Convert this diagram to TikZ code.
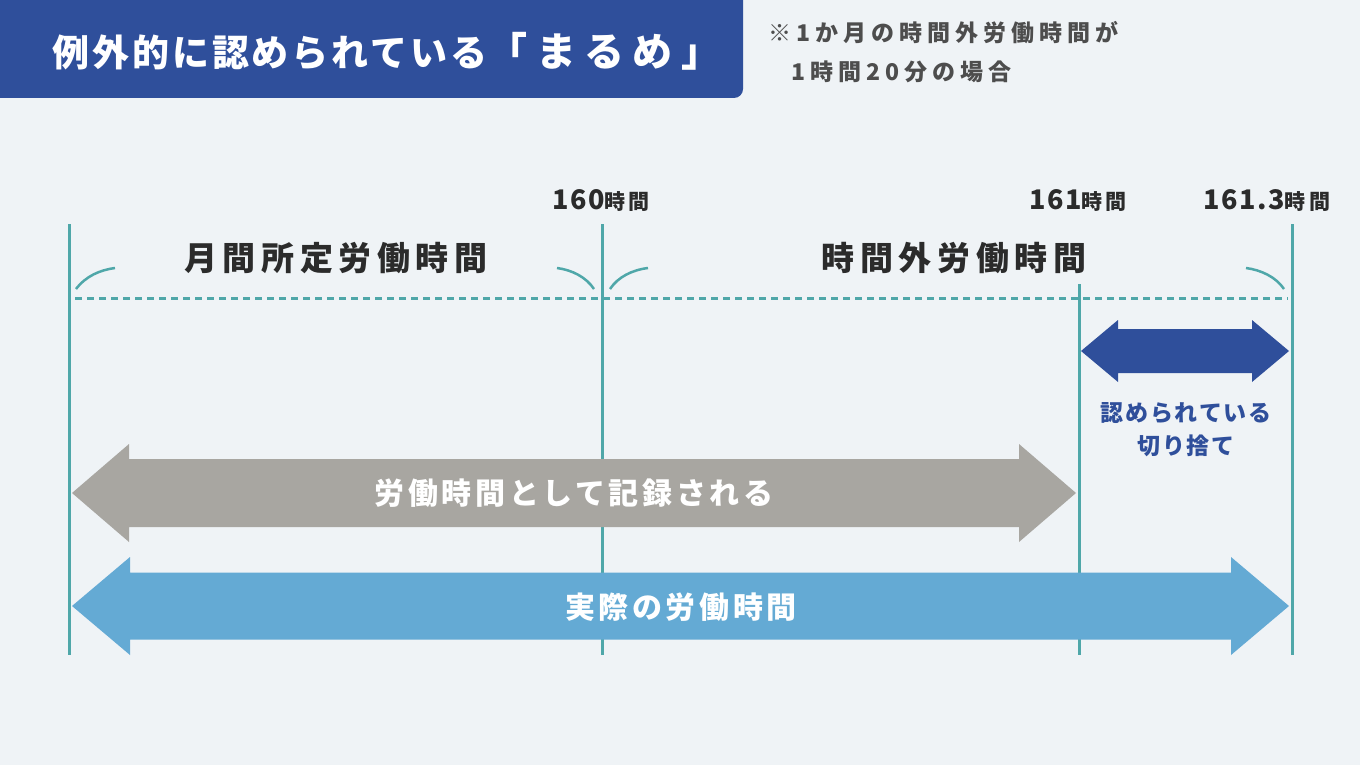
\documentclass[tikz,border=0pt]{standalone}
\usepackage{fontspec}
\setmainfont{Noto Sans CJK JP}
\definecolor{pagebg}{HTML}{EFF3F6}
\definecolor{headblue}{HTML}{2F4F9B}
\definecolor{guideteal}{HTML}{4FA7A9}
\definecolor{recgray}{HTML}{A8A6A1}
\definecolor{realblue}{HTML}{64AAD4}
\definecolor{inkdark}{HTML}{2B2B2B}
\definecolor{notegray}{HTML}{4D4D4D}

% fat double arrow: colour, left tip, right tip, mid y, shaft half, head half, head length
\newcommand{\widearrow}[7]{%
  \fill[#1] (#2,#4) -- ({#2+#7},{#4-#6}) -- ({#2+#7},{#4-#5}) -- ({#3-#7},{#4-#5})
    -- ({#3-#7},{#4-#6}) -- (#3,#4) -- ({#3-#7},{#4+#6}) -- ({#3-#7},{#4+#5})
    -- ({#2+#7},{#4+#5}) -- ({#2+#7},{#4+#6}) -- cycle;}
\newcommand{\hours}[1]{{\fontsize{27}{27}\selectfont\addfontfeature{LetterSpace=6}#1}{\fontsize{21}{21}\selectfont\addfontfeature{LetterSpace=15}時間}}

\tikzset{
  tick/.style={guideteal, line width=3pt},
  guide/.style={guideteal, line width=3pt, dash pattern=on 7pt off 5pt},
  braceend/.style={guideteal, line width=2.5pt},
  hourlabel/.style={anchor=base west, inner sep=0, text=inkdark, font=\bfseries},
  spanlabel/.style={inner sep=0, text=inkdark, font=\bfseries\fontsize{33}{33}\selectfont\addfontfeature{LetterSpace=17}},
  arrowlabel/.style={inner sep=0, text=white, font=\bfseries\fontsize{30}{30}\selectfont\addfontfeature{LetterSpace=12}}
}

\begin{document}
\begin{tikzpicture}[x=1pt,y=-1pt]
\useasboundingbox (0,0) rectangle (1360,765);
\fill[pagebg] (0,0) rectangle (1360,765);

% heading
\fill[headblue] (0,0) -- (743,0) [rounded corners=9pt] -- (743,98) [sharp corners] -- (0,98) -- cycle;
\node[anchor=west, inner sep=0, text=white] (heading) at (52,51)
  {\bfseries\fontsize{37}{40}\selectfont\addfontfeature{LetterSpace=8}例外的に認められている{\fontsize{40}{40}\selectfont\addfontfeature{LetterSpace=21}「まるめ」}};
\node[anchor=west, inner sep=0, text=notegray, align=left,
  font=\bfseries\fontsize{23}{39}\selectfont\addfontfeature{LetterSpace=22}] (note) at (768,52)
  {※1か月の時間外労働時間が\\\phantom{※}1時間20分の場合};

% time marks
\foreach \x/\top in {69/224, 602/224, 1079/284, 1292/224}
  \draw[tick] (\x,\top) -- (\x,655);
\node[hourlabel] (h160) at (552,209) {\hours{160}};
\node[hourlabel] (h161) at (1029,209) {\hours{161}};
\node[hourlabel] (h1613) at (1203,209) {\hours{161.3}};

% spans
\draw[guide] (75,298) -- (1288,298);
\draw[braceend] (76,289) .. controls (86,276) and (100,270) .. (115,268);
\draw[braceend] (557,268) .. controls (572,270) and (586,277) .. (594,289);
\draw[braceend] (610,289) .. controls (618,277) and (632,270) .. (648,268);
\draw[braceend] (1246,268) .. controls (1261,270) and (1276,277) .. (1284,289);
\node[spanlabel] (regular) at (336,258) {月間所定労働時間};
\node[spanlabel] (overtime) at (954,258) {時間外労働時間};

% arrows
\widearrow{headblue}{1081}{1289}{351}{22}{31}{37}
\node[inner sep=0, text=headblue, align=center,
  font=\bfseries\fontsize{23}{33}\selectfont\addfontfeature{LetterSpace=8}] (cutoff) at (1186,430)
  {認められている\\切り捨て};
\widearrow{recgray}{72}{1076}{493}{34}{49}{57}
\node[arrowlabel] (recorded) at (574,493) {労働時間として記録される};
\widearrow{realblue}{72}{1289}{606}{33.5}{49}{58}
\node[arrowlabel] (actual) at (681,607) {実際の労働時間};
\end{tikzpicture}
\end{document}
